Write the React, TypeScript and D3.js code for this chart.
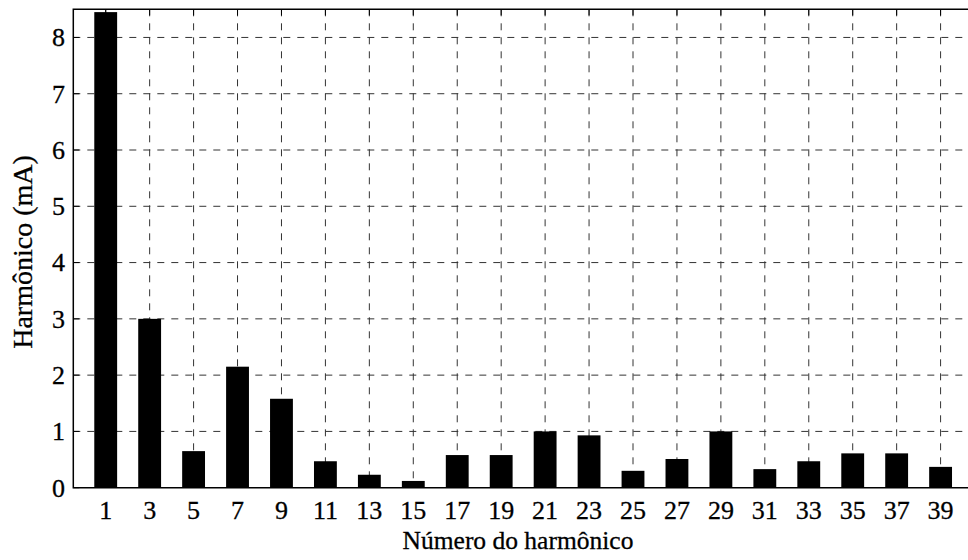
import React, { useEffect, useRef } from 'react';
import * as d3 from 'd3';

// harmonic order and measured amplitude (mA)
const harmonics = [1, 3, 5, 7, 9, 11, 13, 15, 17, 19, 21, 23, 25, 27, 29, 31, 33, 35, 37, 39];
const amplitudes = [8.45, 3.0, 0.65, 2.15, 1.58, 0.47, 0.23, 0.12, 0.58, 0.58, 1.0, 0.93, 0.3, 0.51, 1.0, 0.33, 0.47, 0.61, 0.61, 0.37];
const yTicks = [0, 1, 2, 3, 4, 5, 6, 7, 8];

const W = 968;
const H = 560;
const FONT = "'Liberation Serif', 'Times New Roman', Times, 'DejaVu Serif', serif";

const drawChart = (node: SVGSVGElement) => {
  const svg = d3.select(node);
  svg.selectAll('*').remove();

  const left = 73.3;
  const right = 973;
  const top = 9.3;
  const bottom = 487.7;

  const x = d3.scaleLinear().domain([-0.475, 40.475]).range([left, right]);
  const y = d3.scaleLinear().domain([0, 8.5]).range([bottom, top]);
  const barW = x(1.04) - x(0);

  const g = svg.append('g').attr('font-family', FONT).attr('fill', '#000');

  // dashed grid
  g.selectAll('line.vgrid')
    .data(harmonics)
    .enter()
    .append('line')
    .attr('x1', d => x(d))
    .attr('x2', d => x(d))
    .attr('y1', top)
    .attr('y2', bottom)
    .attr('stroke', '#333')
    .attr('stroke-width', 1)
    .attr('stroke-dasharray', '7,7');

  g.selectAll('line.hgrid')
    .data(yTicks.filter(t => t > 0))
    .enter()
    .append('line')
    .attr('x1', left)
    .attr('x2', right)
    .attr('y1', d => y(d))
    .attr('y2', d => y(d))
    .attr('stroke', '#333')
    .attr('stroke-width', 1)
    .attr('stroke-dasharray', '7,7');

  // bars
  g.selectAll('rect.bar')
    .data(harmonics)
    .enter()
    .append('rect')
    .attr('x', d => x(d) - barW / 2)
    .attr('width', barW)
    .attr('y', (d, i) => y(amplitudes[i]))
    .attr('height', (d, i) => y(0) - y(amplitudes[i]))
    .attr('fill', '#000');

  // axes box (right edge falls outside the picture)
  g.append('path')
    .attr('d', `M${right},${top}H${left}V${bottom}H${right}`)
    .attr('fill', 'none')
    .attr('stroke', '#000')
    .attr('stroke-width', 1.5);

  const tickLen = 6;
  g.selectAll('line.ytick')
    .data(yTicks)
    .enter()
    .append('line')
    .attr('x1', left)
    .attr('x2', left + tickLen)
    .attr('y1', d => y(d))
    .attr('y2', d => y(d))
    .attr('stroke', '#000');

  g.selectAll('line.xtick')
    .data(harmonics)
    .enter()
    .append('line')
    .attr('x1', d => x(d))
    .attr('x2', d => x(d))
    .attr('y1', top)
    .attr('y2', top + tickLen)
    .attr('stroke', '#000');

  // tick labels
  g.selectAll('text.ylab')
    .data(yTicks)
    .enter()
    .append('text')
    .attr('x', 65)
    .attr('y', d => y(d))
    .attr('dy', '0.34em')
    .attr('text-anchor', 'end')
    .attr('font-size', 26)
    .attr('stroke', '#000')
    .attr('stroke-width', 0.3)
    .text(d => d);

  g.selectAll('text.xlab')
    .data(harmonics)
    .enter()
    .append('text')
    .attr('x', d => x(d))
    .attr('y', 519)
    .attr('text-anchor', 'middle')
    .attr('font-size', 26)
    .attr('stroke', '#000')
    .attr('stroke-width', 0.3)
    .text(d => d);

  // axis titles
  g.append('text')
    .attr('x', 518)
    .attr('y', 549)
    .attr('text-anchor', 'middle')
    .attr('font-size', 25.5)
    .attr('stroke', '#000')
    .attr('stroke-width', 0.3)
    .text('Número do harmônico');

  g.append('text')
    .attr('transform', 'translate(32,252) rotate(-90)')
    .attr('text-anchor', 'middle')
    .attr('font-size', 28)
    .attr('stroke', '#000')
    .attr('stroke-width', 0.3)
    .text('Harmônico (mA)');
};

const App = () => {
  const ref = useRef<SVGSVGElement>(null);

  useEffect(() => {
    if (ref.current) drawChart(ref.current);
  }, []);

  return (
    <svg
      ref={ref}
      width={W}
      height={H}
      style={{ position: 'absolute', left: 0, top: 0, background: '#fff' }}
    />
  );
};

export default App;
